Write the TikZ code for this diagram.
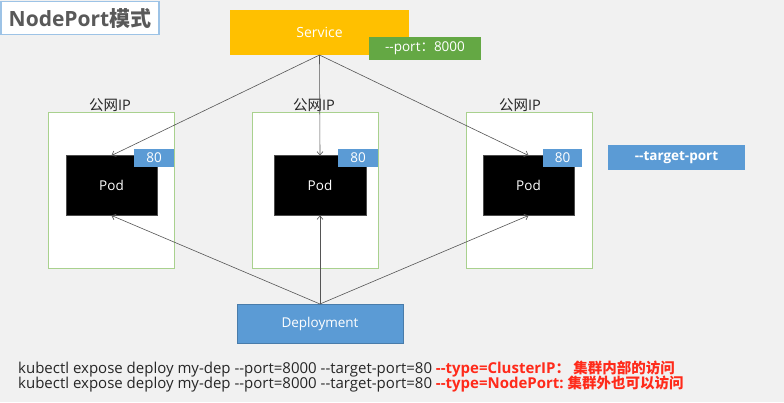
\documentclass[tikz,border=0pt]{standalone}
\usepackage{fontspec}
\setmainfont{Open Sans}
\newfontfamily\cjk{Noto Sans CJK SC}
\usetikzlibrary{arrows.meta}
\definecolor{bgc}{HTML}{F1F1F1}
\definecolor{svcorange}{HTML}{FFC000}
\definecolor{portgreen}{HTML}{64A844}
\definecolor{portblue}{HTML}{5B9BD5}
\definecolor{hostedge}{HTML}{A9D18E}
\definecolor{titlegray}{HTML}{595959}
\definecolor{titleedge}{HTML}{9DC3E6}
\definecolor{cmdred}{HTML}{FF2A1A}
\definecolor{linkgray}{HTML}{555555}
\tikzset{
  box/.style={inner sep=0pt, outer sep=0pt},
  svcbox/.style={box, fill=svcorange, text=white, font=\fontsize{14}{16}\selectfont},
  greentag/.style={box, fill=portgreen, text=white, font=\fontsize{13.5}{16}\selectfont},
  bluetag/.style={box, fill=portblue, text=white, font=\fontsize{13.5}{16}\selectfont},
  hostbox/.style={box, draw=hostedge, fill=white, line width=0.8pt},
  podbox/.style={box, fill=black, draw=black!70, text=white, font=\fontsize{13.5}{16}\selectfont},
  hostlabel/.style={inner sep=0pt, font=\fontsize{14.5}{16}\selectfont, text=black!85},
  link/.style={draw=linkgray, line width=0.6pt, -{Straight Barb[length=3.5pt,width=6pt]}},
  cmd/.style={anchor=base west, inner sep=0pt, font=\fontsize{15}{15}\selectfont, text=black!85}
}
\begin{document}
\begin{tikzpicture}[x=1pt,y=-1pt]
  % page background
  \fill[bgc] (0,0) rectangle (784,402);
  \useasboundingbox (0,0) rectangle (784,402);

  % heading
  \node[box, fill=white, draw=titleedge, line width=1.2pt, minimum width=158pt, minimum height=33pt,
        text=titlegray, font=\bfseries\fontsize{21}{24}\selectfont] (title) at (80,18) {NodePort{\cjk 模式}};

  % service with its port
  \node[svcbox, minimum width=179pt, minimum height=45pt] (svc) at (319.5,32.5) {Service};
  \node[greentag, minimum width=112pt, minimum height=23pt] (port) at (425,48.5) {-{}-port{\cjk ：}8000};

  % hosts
  \node[hostbox, minimum width=126pt, minimum height=156pt] (host1) at (111,190) {};
  \node[hostbox, minimum width=126pt, minimum height=156pt] (host2) at (315,190) {};
  \node[hostbox, minimum width=126pt, minimum height=156pt] (host3) at (529,190) {};
  \node[hostlabel] (ip1) at (110,105) {{\cjk 公网}IP};
  \node[hostlabel] (ip2) at (314,105) {{\cjk 公网}IP};
  \node[hostlabel] (ip3) at (520,105) {{\cjk 公网}IP};

  % pods
  \node[podbox, minimum width=91pt, minimum height=60pt] (pod1) at (111.5,185.5) {Pod};
  \node[podbox, minimum width=92pt, minimum height=60pt] (pod2) at (320,185.5) {Pod};
  \node[podbox, minimum width=91pt, minimum height=60pt] (pod3) at (528.5,185.5) {Pod};
  \node[bluetag, minimum width=40pt, minimum height=18pt] (tp1) at (154,158) {80};
  \node[bluetag, minimum width=40pt, minimum height=18pt] (tp2) at (358,157.5) {80};
  \node[bluetag, minimum width=39pt, minimum height=18pt] (tp3) at (562.5,157.5) {80};
  \node[bluetag, minimum width=137pt, minimum height=25pt, font=\bfseries\fontsize{13.5}{16}\selectfont] (tport) at (676.5,157.5) {-{}-target-port};

  % deployment
  \node[bluetag, minimum width=166pt, minimum height=39pt, draw=portblue!80!black, line width=0.4pt] (dep) at (320,323.5) {Deployment};

  % service routes to pods
  \draw[link] (svc.south) -- (pod1.north);
  \draw[link] (svc.south) -- (pod2.north);
  \draw[link] (svc.south) -- (pod3.north);
  % deployment manages pods
  \draw[link] (dep.north) -- (pod1.south);
  \draw[link] (dep.north) -- (pod2.south);
  \draw[link] (dep.north) -- (pod3.south);

  % commands
  \node[cmd] (cmd1) at (18,373) {kubectl expose deploy my-dep -{}-port=8000 -{}-target-port=80 \textcolor{cmdred}{\bfseries -{}-type=ClusterIP{\cjk\fontsize{14.5}{15}\selectfont ：\ 集群内部的访问}}};
  \node[cmd] (cmd2) at (18,388) {kubectl expose deploy my-dep -{}-port=8000 -{}-target-port=80 \textcolor{cmdred}{\bfseries -{}-type=NodePort:\ {\cjk\fontsize{14.5}{15}\selectfont 集群外也可以访问}}};
\end{tikzpicture}
\end{document}
